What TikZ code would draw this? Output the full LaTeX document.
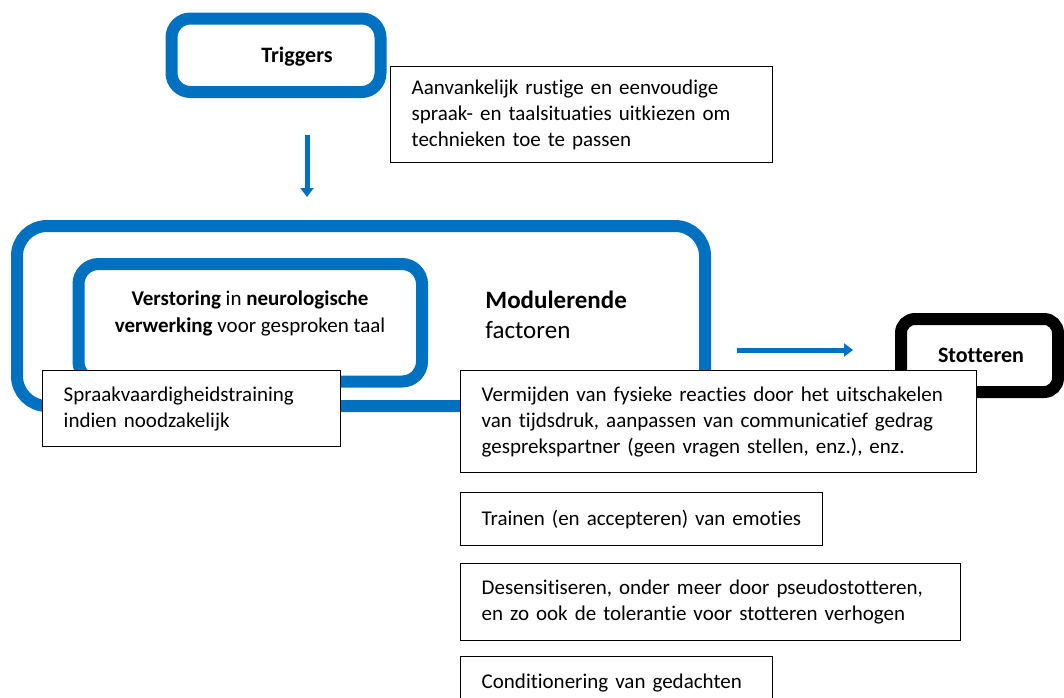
\documentclass[tikz,border=0pt]{standalone}
\usepackage{fontspec}
\setmainfont{Carlito}[RawFeature={-liga}]
\usetikzlibrary{arrows.meta}
\definecolor{wblue}{HTML}{0070C0}
\begin{document}
\begin{tikzpicture}[x=0.5pt,y=-0.5pt,
  bluebox/.style={draw=wblue,line width=6pt},
  blackbox/.style={draw=black,line width=6pt,rounded corners=7pt},
  tbox/.style={draw=black,line width=0.7pt,fill=white,anchor=north west,inner xsep=10.5pt,inner ysep=0pt,align=left,font=\fontsize{10.5}{13}\selectfont},
  barrow/.style={draw=wblue,line width=2.5pt,-{Triangle[width=6.5pt,length=4.5pt]}},
  lbl/.style={font=\fontsize{10.5}{13.5}\selectfont, inner sep=0pt}
]
\clip (0,0) rectangle (1064,697);
\fill[white] (0,0) rectangle (1064,697);

% blue rounded frames
\draw[bluebox,rounded corners=9.5pt] (171.5,18.5) rectangle (380.5,92);
\draw[bluebox,rounded corners=15pt] (17,226) rectangle (705,406);
\draw[bluebox,rounded corners=10pt] (78.5,264) rectangle (422,381.5);
\draw[blackbox] (901,319) rectangle (1058,392);

% labels in frames
\node[lbl,font=\fontsize{11}{13.5}\selectfont\bfseries] (trig) at (297,57) {Triggers};
\node[lbl,align=center] (verst) at (250,313) {\textbf{Verstoring} in \textbf{neurologische}\\\textbf{verwerking} voor gesproken taal};
\node[lbl,anchor=west,align=left,font=\fontsize{12.5}{15}\selectfont] (mod) at (485,315) {\textbf{Modulerende}\\factoren};
\node[lbl,font=\fontsize{11}{13.5}\selectfont\bfseries] (stot) at (981,355) {Stotteren};

% arrows
\coordinate (a1s) at (307,135);
\coordinate (a1e) at (307,197);
\draw[barrow] (a1s) -- (a1e);
\coordinate (a2s) at (737,350);
\coordinate (a2e) at (853,350);
\draw[barrow] (a2s) -- (a2e);

% text boxes
\node[tbox,minimum width=191pt,minimum height=48pt,text width=170pt] (aanv) at (390,66)
  {Aanvankelijk rustige en eenvoudige\\spraak- en taalsituaties uitkiezen om\\technieken toe te passen};
\node[tbox,minimum width=149pt,minimum height=38pt,text width=128pt] (spraak) at (42,370)
  {Spraakvaardigheidstraining\\indien noodzakelijk};
\node[tbox,minimum width=258pt,minimum height=51pt,text width=237pt] (verm) at (460,370)
  {Vermijden van fysieke reacties door het uitschakelen\\van tijdsdruk, aanpassen van communicatief gedrag\\gesprekspartner (geen vragen stellen, enz.), enz.};
\node[tbox,minimum width=181pt,minimum height=26.5pt,text width=160pt] (train) at (460,492)
  {Trainen (en accepteren) van emoties};
\node[tbox,minimum width=250pt,minimum height=38.5pt,text width=229pt] (desens) at (460,563)
  {Desensitiseren, onder meer door pseudostotteren,\\en zo ook de tolerantie voor stotteren verhogen};
\node[tbox,minimum width=156pt,minimum height=26pt,text width=135pt] (cond) at (460,656)
  {Conditionering van gedachten};
\end{tikzpicture}
\end{document}
